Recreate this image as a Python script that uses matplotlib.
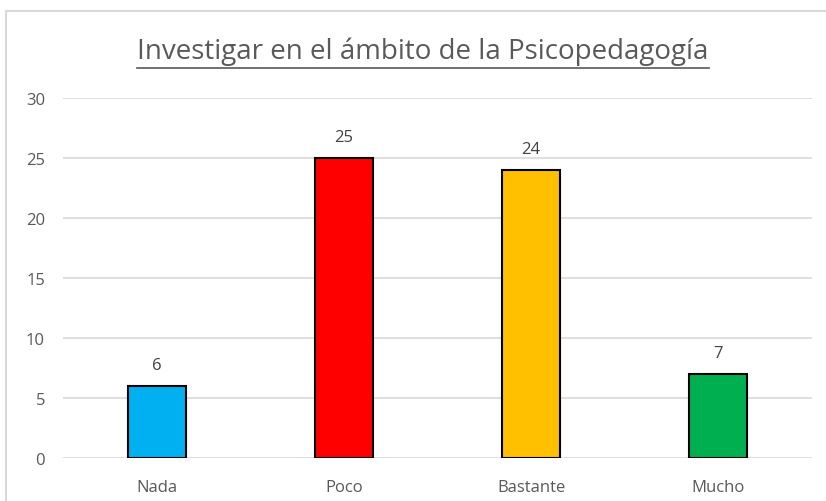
import matplotlib
matplotlib.use("Agg")
import matplotlib.pyplot as plt
from matplotlib.patches import Rectangle
from matplotlib.lines import Line2D

categories = ["Nada", "Poco", "Bastante", "Mucho"]
values = [6, 25, 24, 7]
colors = ["#00B0F0", "#FF0000", "#FFC000", "#00B050"]
yticks = [0, 5, 10, 15, 20, 25, 30]
title = "Investigar en el ámbito de la Psicopedagogía"

plt.rcParams['font.family'] = ['Open Sans', 'DejaVu Sans']
W, H = 826, 502
fig = plt.figure(figsize=(W/100, H/100), dpi=100)
ax = fig.add_axes([63/W, 1-459/H, (812-63)/W, (459-99)/H])

x = list(range(len(categories)))
bars = ax.bar(x, values, width=0.31, color=colors, edgecolor="black", linewidth=1.5, zorder=3)
for xi, v in zip(x, values):
    ax.annotate(str(v), (xi, v), xytext=(0, 9), textcoords="offset points",
                ha="center", va="bottom", fontsize=12, color="#404040")

ax.set_xlim(-0.5, len(categories)-0.5)
ax.set_ylim(0, 30)
ax.set_yticks(yticks)
ax.set_xticks(x)
ax.set_xticklabels(categories)
ax.tick_params(axis="both", length=0, labelsize=12, colors="#595959")
ax.tick_params(axis="x", pad=15)
ax.tick_params(axis="y", pad=13)
ax.grid(axis="y", color="#D9D9D9", linewidth=1.2, zorder=0)
for s in ax.spines.values():
    s.set_visible(False)

t = fig.text(423/W, 1-52/H, title, ha="center", va="center", fontsize=20, color="#595959")

# outer chart frame
fig.patches.append(Rectangle((6/W, -0.1), 1.1, 1-12/H+0.1, transform=fig.transFigure,
                             fill=False, edgecolor="#D9D9D9", linewidth=1.5, clip_on=False))

# underline title
fig.canvas.draw()
bb = t.get_window_extent().transformed(fig.transFigure.inverted())
uy = 1-69/H
fig.lines.append(Line2D([bb.x0, bb.x1], [uy, uy], transform=fig.transFigure, color="#595959", linewidth=1.2))

fig.savefig("out.png", dpi=100)
